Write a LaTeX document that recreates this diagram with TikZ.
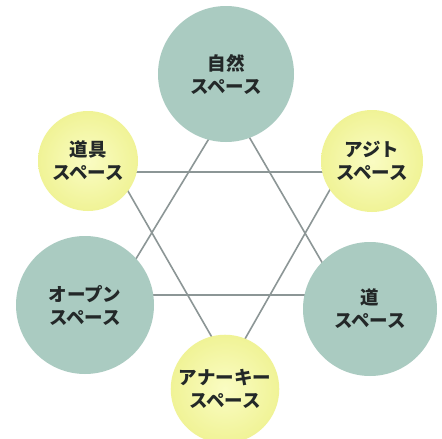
\documentclass[tikz,border=0pt]{standalone}
\usepackage{fontspec}
\newfontfamily\jp{Noto Sans CJK JP}
\definecolor{tealc}{RGB}{170,203,193}
\definecolor{yelc}{RGB}{240,243,150}
\definecolor{yelin}{RGB}{250,252,195}
\definecolor{linec}{RGB}{140,150,150}
\definecolor{txtc}{RGB}{35,40,40}
\begin{document}
\begin{tikzpicture}[x=1pt,y=-1pt,
  lab/.style={font=\jp\bfseries\fontsize{18.5}{23}\selectfont, text=txtc, align=center},
  tealcirc/.style={circle, fill=tealc, draw=none, lab},
  yelcirc/.style={circle, inner color=yelin, outer color=yelc, draw=none, lab},
  hexline/.style={draw=linec, line width=1.6pt}]
\useasboundingbox[fill=white] (0,0) rectangle (442,439);
% hexagram vertices
\coordinate (a1) at (230,104);
\coordinate (a2) at (114,295);
\coordinate (a3) at (341,295);
\coordinate (b1) at (117,172);
\coordinate (b2) at (340,172);
\coordinate (b3) at (229,367);
\draw[hexline] (a1) -- (a2) -- (a3) -- cycle;
\draw[hexline] (b1) -- (b2) -- (b3) -- cycle;
% circles
\node[tealcirc, minimum size=136pt] (shizen) at (226,74) {自然\\スペース};
\node[yelcirc, minimum size=100pt] (dougu) at (88,161) {道具\\スペース};
\node[yelcirc, minimum size=102pt] (ajito) at (372,161) {アジト\\スペース};
\node[tealcirc, minimum size=138pt] (open) at (85,305) {オープン\\スペース};
\node[tealcirc, minimum size=134pt] (michi) at (370,309) {道\\スペース};
\node[yelcirc, minimum size=98pt] (anarchy) at (225,389) {アナーキー\\スペース};
\end{tikzpicture}
\end{document}
